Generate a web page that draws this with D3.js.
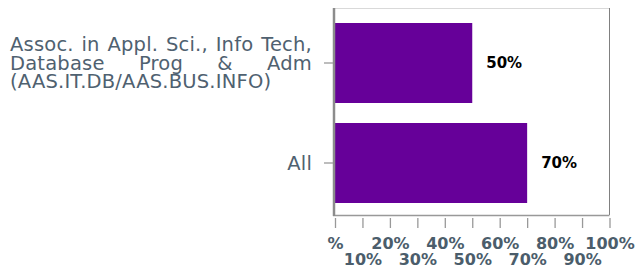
<!DOCTYPE html>
<html>
<head>
<meta charset="utf-8">
<script src="https://cdn.jsdelivr.net/npm/d3@7"></script>
<style>
  html, body { margin: 0; padding: 0; background: #fff; }
  svg { display: block; }
</style>
</head>
<body>
<div id="chart"></div>
<script>
// chart data
const categories = ['Assoc. in Appl. Sci., Info Tech, Database Prog & Adm (AAS.IT.DB/AAS.BUS.INFO)', 'All'];
const values = [50, 70];
const valueLabels = ['50%', '70%'];
const tickValues = [0, 10, 20, 30, 40, 50, 60, 70, 80, 90, 100];
const tickLabels = ['%', '10%', '20%', '30%', '40%', '50%', '60%', '70%', '80%', '90%', '100%'];

const width = 638, height = 272;
const plot = { left: 335, right: 609.5, top: 8, bottom: 215 };
const labelWidth = 302;

const svg = d3.select('#chart').append('svg')
  .attr('width', width)
  .attr('height', height);

const x = d3.scaleLinear()
  .domain([0, 100])
  .range([plot.left, plot.right]);

const y = d3.scaleBand()
  .domain(categories)
  .range([13, 213])
  .paddingInner(0.2)
  .paddingOuter(0.1);

// frame
svg.append('line')
  .attr('x1', plot.left - 2).attr('x2', plot.right)
  .attr('y1', plot.top + 0.5).attr('y2', plot.top + 0.5)
  .attr('stroke', '#d9d9d9');
svg.append('line')
  .attr('x1', plot.right).attr('x2', plot.right)
  .attr('y1', plot.top).attr('y2', plot.bottom)
  .attr('stroke', '#808080');

// bars
svg.selectAll('.bar')
  .data(values)
  .enter().append('rect')
  .attr('class', 'bar')
  .attr('x', x(0))
  .attr('y', (d, i) => y(categories[i]))
  .attr('width', d => x(d) - x(0))
  .attr('height', y.bandwidth())
  .attr('fill', '#660099');

svg.selectAll('.val')
  .data(values)
  .enter().append('text')
  .attr('class', 'val')
  .attr('x', d => x(d) + 14)
  .attr('y', (d, i) => y(categories[i]) + y.bandwidth() / 2)
  .attr('dy', '0.35em')
  .attr('font-family', 'DejaVu Sans, Verdana, sans-serif')
  .attr('font-size', 15)
  .attr('font-weight', 'bold')
  .attr('fill', '#000')
  .text((d, i) => valueLabels[i]);

// bottom axis
const xAxis = svg.append('g')
  .attr('transform', `translate(0, ${plot.bottom + 3})`)
  .call(d3.axisBottom(x).tickValues(tickValues).tickSize(10).tickFormat((d, i) => tickLabels[i]));
xAxis.select('.domain').remove();
xAxis.selectAll('.tick line').attr('stroke', '#999').attr('stroke-width', 1.3);
xAxis.selectAll('.tick text')
  .attr('y', (d, i) => i % 2 === 0 ? 30.5 : 47)
  .attr('dy', null)
  .attr('font-family', 'DejaVu Sans, Verdana, sans-serif')
  .attr('font-size', 16)
  .attr('font-weight', 'bold')
  .attr('fill', '#4b5d6b');

svg.append('line')
  .attr('x1', plot.left - 2).attr('x2', plot.right)
  .attr('y1', plot.bottom + 0.5).attr('y2', plot.bottom + 0.5)
  .attr('stroke', '#999').attr('stroke-width', 1.5);

// left axis
svg.append('line')
  .attr('x1', plot.left - 1).attr('x2', plot.left - 1)
  .attr('y1', plot.top).attr('y2', plot.bottom + 1)
  .attr('stroke', '#8c8c8c').attr('stroke-width', 2.5);

const yTicks = svg.selectAll('.ytick')
  .data(categories)
  .enter().append('g')
  .attr('class', 'ytick')
  .attr('transform', d => `translate(0, ${y(d) + y.bandwidth() / 2})`);

yTicks.append('line')
  .attr('x1', plot.left - 11).attr('x2', plot.left - 2)
  .attr('stroke', '#999').attr('stroke-width', 1.3);

// wrapped, justified category labels (last line left aligned, single line right aligned)
const labelRight = plot.left - 23;
const lineH = 18.5;
yTicks.each(function (d) {
  const g = d3.select(this);
  const t = g.append('text')
    .attr('font-family', 'DejaVu Sans, Verdana, sans-serif')
    .attr('font-size', 19.5)
    .attr('letter-spacing', 0.2)
    .attr('fill', '#4f6170');
  const measure = s => {
    const tmp = t.append('tspan').text(s);
    const w = tmp.node().getComputedTextLength();
    tmp.remove();
    return w;
  };
  const words = d.split(' ');
  const lines = [];
  let cur = [];
  words.forEach(w => {
    const test = cur.concat([w]).join(' ');
    if (cur.length && measure(test) > labelWidth + 4) {
      lines.push(cur);
      cur = [w];
    } else {
      cur.push(w);
    }
  });
  lines.push(cur);
  const y0 = 6.5 - (lines.length - 1) * lineH / 2;
  lines.forEach((ws, li) => {
    const by = y0 + li * lineH;
    if (lines.length === 1) {
      t.append('tspan')
        .attr('x', labelRight)
        .attr('y', by)
        .attr('text-anchor', 'end')
        .text(ws.join(' '));
    } else if (li === lines.length - 1) {
      t.append('tspan')
        .attr('x', labelRight - labelWidth)
        .attr('y', by)
        .text(ws.join(' '));
    } else {
      const widths = ws.map(measure);
      const total = d3.sum(widths);
      const gap = (labelWidth - total) / (ws.length - 1);
      let cx = labelRight - labelWidth;
      ws.forEach((w, wi) => {
        t.append('tspan')
          .attr('x', cx)
          .attr('y', by)
          .text(w);
        cx += widths[wi] + gap;
      });
    }
  });
});
</script>
</body>
</html>
